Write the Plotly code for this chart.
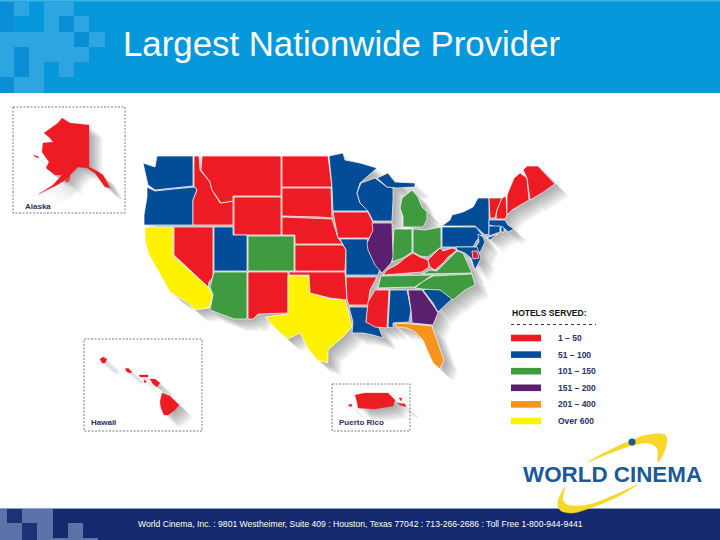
import plotly.graph_objects as go

# colour classes
RED = '#ED1C24'
BLUE = '#034C97'
GREEN = '#3F9A40'
PURPLE = '#5A1F6E'
ORANGE = '#F7941D'
YELLOW = '#FFF200'

legend_title = 'HOTELS SERVED:'
legend_labels = ['1 – 50', '51 – 100', '101 – 150', '151 – 200', '201 – 400', 'Over 600']
legend_colors = [RED, BLUE, GREEN, PURPLE, ORANGE, YELLOW]

# state outlines
WA = [(143,163),(155,167),(157,156),(193,156),(193,186),(173,188),(155,190),(148,185)]
OR = [(147,187),(155,191),(173,189),(195,187),(197,190),(193,200),(193,225),(144,225),(144,215),(147,197)]
ID = [(194,156),(199,156),(200,170),(210,182),(212,190),(220,203),(233,201),(233,225),(193,225),(193,200),(197,190),(194,186)]
MT = [(202,156),(281,156),(281,196),(233,196),(233,201),(221,203),(212,190),(210,182),(201,170)]
WY = [(234,197),(281,197),(281,235),(234,235)]
ND = [(282,156),(328,156),(332,187),(282,187)]
SD = [(282,188),(331,188),(332,218),(320,217),(282,216)]
NE = [(282,217),(320,218),(332,219),(338,238),(343,244),(295,244),(295,235),(282,235)]
KS = [(295,245),(343,245),(346,250),(345,271),(295,271)]
CO = [(248,236),(294,236),(294,271),(248,271)]
UT = [(214,227),(233,227),(233,235),(247,235),(247,271),(214,271)]
NV = [(174,227),(213,227),(213,277),(209,282),(208,287),(174,255)]
CA = [(145,227),(173,227),(173,256),(208,287),(213,295),(209,308),(195,310),(188,303),(170,292),(158,270),(148,253),(145,240)]
AZ = [(214,272),(247,272),(247,319),(234,319),(210,310),(213,295),(210,287)]
NM = [(248,272),(288,272),(288,313),(258,314),(253,319),(248,319)]
TX = [(288,276),(309,276),(310,293),(330,299),(345,300),(348,310),(352,327),(343,337),(328,350),(328,363),(317,360),(307,347),(300,333),(288,339),(277,330),(265,317),(288,314)]
OK = [(289,272),(345,272),(347,300),(330,298),(310,293),(309,275),(289,275)]
MN = [(329,156),(343,153),(345,160),(360,163),(377,168),(360,183),(357,193),(360,203),(369,211),(333,211),(332,187)]
WI = [(361,183),(375,178),(387,187),(393,187),(393,200),(392,221),(373,221),(368,211),(360,203),(357,193)]
UP = [(377,178),(388,173),(395,182),(415,183),(415,187),(397,188),(387,187)]
MI = [(402,198),(412,190),(418,197),(422,207),(427,212),(427,220),(423,227),(403,227),(403,217),(400,208)]
IA = [(333,212),(368,212),(375,227),(370,238),(338,238)]
MO = [(340,239),(367,239),(369,247),(380,268),(378,275),(346,275),(346,250)]
AR = [(346,277),(377,277),(370,290),(368,305),(349,305),(347,300)]
LA = [(349,307),(368,307),(366,322),(377,323),(383,338),(373,335),(363,333),(352,333),(353,322)]
MS = [(375,290),(389,290),(387,328),(375,327),(366,322),(368,302)]
AL = [(390,290),(407,290),(411,310),(409,322),(393,323),(393,328),(388,327)]
GA = [(408,290),(422,290),(435,308),(438,313),(433,325),(412,323),(411,310)]
FL = [(395,323),(412,324),(432,326),(437,340),(444,360),(440,369),(433,363),(427,350),(423,340),(415,332),(407,328),(397,327)]
SC = [(423,290),(430,288),(442,290),(453,298),(438,312),(433,303)]
NC = [(433,276),(472,274),(475,285),(465,290),(453,300),(440,290),(422,289),(415,288),(423,281)]
TN = [(381,276),(433,275),(428,278),(415,287),(378,288)]
KY = [(383,275),(387,270),(398,264),(405,258),(413,253),(420,257),(428,260),(429,267),(422,272),(398,274)]
VA = [(422,274),(430,270),(437,271),(445,263),(450,257),(457,251),(463,253),(472,273)]
WV = [(428,260),(435,253),(440,248),(443,251),(452,248),(457,250),(448,257),(443,263),(435,270),(430,267)]
OH = [(413,229),(425,230),(441,227),(441,247),(428,257),(420,256),(413,252)]
IN = [(394,229),(412,229),(412,252),(403,258),(392,262)]
IL = [(372,223),(392,223),(393,257),(391,263),(382,273),(375,265),(368,250),(367,243),(373,230)]
NY = [(452,215),(463,212),(473,207),(478,198),(489,198),(489,218),(489,234),(485,235),(483,233),(479,230),(475,226),(442,226),(450,220)]
PA = [(442,227),(476,227),(482,235),(477,240),(473,247),(442,247)]
NJ = [(478,234),(483,237),(485,242),(480,253),(475,248),(479,242)]
MD = [(456,247),(477,247),(481,258),(475,270),(471,258),(465,253),(457,250)]
DE = [(472,251),(477,251),(479,258),(473,259)]
VT = [(489,198),(502,198),(497,210),(495,218),(490,218)]
NH = [(502,198),(506,196),(507,215),(505,219),(496,219),(497,210)]
ME_W = [(507,195),(514,178),(520,173),(527,178),(529,200),(512,210),(507,215)]
ME_E = [(523,170),(527,166),(538,166),(555,184),(542,193),(530,200),(527,178)]
MA = [(489,220),(505,220),(508,225),(514,229),(508,232),(505,229),(489,225)]
CT = [(489,226),(500,226),(500,232),(489,236)]
RI = [(501,226),(504,228),(504,232),(501,232)]
LI = [(487,238),(498,234),(490,240)]

# insets
AK = [(44,133),(58,123),(62,118),(70,123),(89,125),(89,167),(97,171),(103,175),(110,188),(105,187),(95,173),(87,168),(78,167),(70,175),(70,177),(57,185),(39,194),(53,185),(62,175),(55,175),(46,168),(49,162),(42,152),(43,143),(53,142),(50,138)]
AK_ISLAND = [(34,155),(39,157),(38,158),(34,156)]
KODIAK = [(65,181),(70,178),(68,182)]
KAUAI = [(100,359),(103,357),(107,359),(105,363),(102,363)]
OAHU = [(125,369),(128,368),(132,372),(130,373),(127,372)]
MOLOKAI = [(139,375),(148,375),(148,377),(140,377)]
LANAI = [(144,380),(146,381),(146,383),(144,382)]
MAUI = [(150,379),(155,379),(160,383),(157,387),(153,384)]
BIG_ISLAND = [(162,393),(170,396),(179,405),(175,410),(168,415),(164,415),(161,408),(160,402)]
PR = [(355,395),(365,393),(388,393),(395,400),(393,406),(375,409),(358,408),(357,402)]
MONA = [(348,405),(352,404),(351,407)]
VIEQUES = [(397,403),(405,404),(406,407),(400,405)]
CULEBRA = [(399,398),(402,398),(401,401)]

# logo swooshes
SWOOSH_TOP = [(588,462),(610,450),(632,440),(647,435),(665,435),(667,442),(660,460),(658,462),(657,448),(647,443),(627,447),(603,456)]
SWOOSH_BOTTOM = [(565,487),(558,502),(560,510),(572,513),(590,508),(617,497),(637,485),(610,497),(587,505),(568,505),(563,500)]
LOGO_DOT = [(632,442)]

mainland = [
    (WA, BLUE), (OR, BLUE), (ID, RED), (MT, RED), (WY, RED), (ND, RED), (SD, RED), (NE, RED),
    (KS, RED), (CO, GREEN), (UT, BLUE), (NV, RED), (CA, YELLOW), (AZ, GREEN), (NM, RED),
    (TX, YELLOW), (OK, RED), (MN, BLUE), (WI, BLUE), (UP, BLUE), (MI, GREEN), (IA, RED),
    (MO, BLUE), (AR, RED), (LA, BLUE), (MS, RED), (AL, BLUE), (GA, PURPLE), (FL, ORANGE),
    (SC, BLUE), (NC, GREEN), (TN, GREEN), (KY, RED), (VA, GREEN), (WV, RED), (OH, GREEN),
    (IN, GREEN), (IL, PURPLE), (NY, BLUE), (PA, BLUE), (NJ, BLUE), (MD, BLUE), (DE, RED),
    (VT, RED), (NH, RED), (ME_W, RED), (ME_E, RED), (MA, BLUE), (CT, BLUE), (RI, BLUE), (LI, BLUE),
]
insets = [AK, AK_ISLAND, KODIAK, KAUAI, OAHU, MOLOKAI, LANAI, MAUI, BIG_ISLAND, PR, MONA, VIEQUES, CULEBRA]

HEADER = '#0797DB'
HEADER_LIGHT = '#2CA5E0'
HEADER_DARK = '#0A8FD6'
FOOTER = '#15296F'
FOOTER_LIGHT = '#5C72A8'
FOOTER_DARK = '#1B3277'
LABEL = '#2A3160'
LOGO_BLUE = '#1A5A99'
LOGO_YELLOW = '#F7D72A'

fig = go.Figure()


def rect(x0, y0, x1, y1, color):
    fig.add_shape(type='rect', x0=x0, y0=y0, x1=x1, y1=y1, fillcolor=color,
                  line_width=0, layer='below')


def dashed_box(x0, y0, x1, y1):
    fig.add_shape(type='rect', x0=x0, y0=y0, x1=x1, y1=y1, fillcolor='rgba(0,0,0,0)',
                  line=dict(color='#444444', width=0.7, dash='2px,1.5px'), layer='below')


def label(x, y, text, size, color, bold=False, anchor='left'):
    fig.add_annotation(x=x, y=y, text=f'<b>{text}</b>' if bold else text, showarrow=False,
                       xanchor=anchor, yanchor='middle', borderpad=0, align='left',
                       font=dict(family='Liberation Sans', size=size, color=color))


def polygon(pts, color, line):
    fig.add_trace(go.Scatter(x=[p[0] for p in pts] + [pts[0][0]], y=[p[1] for p in pts] + [pts[0][1]],
                             mode='lines', fill='toself', fillcolor=color, line=line))


# header band with pixel pattern
rect(0, 0, 720, 93, HEADER)
rect(0, 0, 720, 1.5, '#3CB4E8')
for box in [(14,2,29,16), (44,2,74,16), (44,16,59,32), (74,16,89,32), (0,32,74,47), (89,32,105,47),
            (0,47,14,77), (29,47,89,62), (29,62,44,93), (59,62,74,77), (14,77,44,93)]:
    rect(*box, HEADER_LIGHT)
for box in [(0,2,14,32), (59,16,74,32), (74,32,89,47), (14,47,29,77), (0,77,14,93)]:
    rect(*box, HEADER_DARK)

# footer band
rect(0, 508, 720, 540, FOOTER)
rect(0, 508, 720, 509, '#8FA0C8')
for box in [(0,509,7,523), (22,509,53,523), (0,523,22,540), (37,523,53,540), (68,523,83,540), (53,538,98,540)]:
    rect(*box, FOOTER_LIGHT)
for box in [(7,509,22,523), (22,523,37,540)]:
    rect(*box, FOOTER_DARK)

# soft drop shadow: the same outlines, shifted
for offset in [1.5, 3, 4.5, 6, 7.5, 9, 10.5, 12, 13.5]:
    xs, ys = [], []
    for pts in [m[0] for m in mainland] + insets:
        xs += [p[0] + offset for p in pts] + [None]
        ys += [p[1] + offset * 0.9 for p in pts] + [None]
    fig.add_trace(go.Scatter(x=xs, y=ys, mode='lines', fill='toself', line_width=0,
                             fillcolor='rgba(60,60,60,0.06)', hoverinfo='skip'))

for pts, color in mainland:
    polygon(pts, color, dict(color='white', width=0.7))
for pts in insets:
    polygon(pts, RED, dict(color=RED, width=0.3))

# inset frames
dashed_box(13, 107, 125, 213)
dashed_box(84, 339, 202, 431)
dashed_box(332, 384, 410, 431)
label(24, 206, 'Alaska', 8, LABEL, bold=True)
label(90, 422, 'Hawaii', 8, LABEL, bold=True)
label(338, 422, 'Puerto Rico', 8, LABEL, bold=True)

# legend
label(511, 313, legend_title, 8.5, '#111111', bold=True)
fig.add_shape(type='line', x0=511, y0=324.5, x1=596, y1=324.5, line=dict(color='#333333', width=1, dash='dot'))
for i, (text, color) in enumerate(zip(legend_labels, legend_colors)):
    y = 338 + i * 16.6
    rect(511, y - 3.3, 541, y + 3.3, color)
    label(557, y, text, 8.5, LABEL, bold=True)

# logo
for pts in [SWOOSH_TOP, SWOOSH_BOTTOM]:
    polygon(pts, LOGO_YELLOW, dict(color=LOGO_YELLOW, width=0.5, shape='spline'))
fig.add_trace(go.Scatter(x=[p[0] for p in LOGO_DOT], y=[p[1] for p in LOGO_DOT], mode='markers',
                         marker=dict(color=LOGO_BLUE, size=7)))
label(522, 474.5, 'WORLD CINEMA', 22.4, LOGO_BLUE, bold=True)

label(122, 43, 'Largest Nationwide Provider', 34.8, 'white')
label(137, 524, 'World Cinema, Inc. : 9801 Westheimer, Suite 409 : Houston, Texas 77042 : 713-266-2686 : Toll Free 1-800-944-9441', 8.6, 'white')

fig.update_layout(
    width=720, height=540,
    margin=dict(l=0, r=0, t=0, b=0),
    paper_bgcolor='white', plot_bgcolor='white',
    showlegend=False, hovermode='closest',
    xaxis=dict(range=[0, 720], visible=False, fixedrange=True),
    yaxis=dict(range=[540, 0], visible=False, fixedrange=True),
)

fig.write_html('out.html', config={'displayModeBar': False},
               post_script="document.body.style.margin='0';")
